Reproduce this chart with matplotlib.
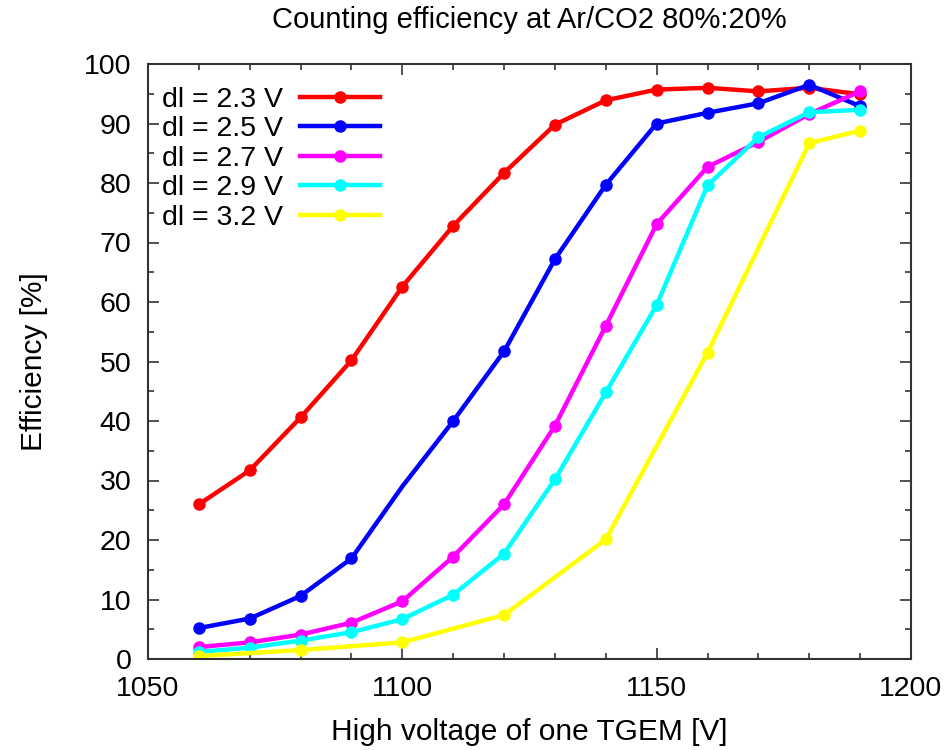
import numpy as np
import matplotlib
matplotlib.use('Agg')
import matplotlib.pyplot as plt
from matplotlib.ticker import MultipleLocator

plt.rcParams['font.family'] = ['Liberation Sans', 'DejaVu Sans']

# high voltage [V] and efficiency [%] per drift voltage
hv_full = [1060, 1070, 1080, 1090, 1100, 1110, 1120, 1130, 1140, 1150, 1160, 1170, 1180, 1190]

eff_23 = [26.0, 31.7, 40.6, 50.2, 62.6, 72.8, 81.7, 89.8, 93.9, 95.7, 96.0, 95.4, 96.0, 94.9]
eff_25 = [5.2, 6.8, 10.6, 16.9, 29.0, 40.0, 51.7, 67.2, 79.7, 90.0, 91.8, 93.4, 96.5, 92.9]
eff_27 = [2.0, 2.8, 4.1, 6.1, 9.7, 17.2, 26.0, 39.2, 56.0, 73.1, 82.7, 86.9, 91.6, 95.4]
eff_29 = [1.2, 1.9, 3.1, 4.5, 6.7, 10.8, 17.7, 30.2, 44.8, 59.5, 79.6, 87.7, 91.9, 92.3]

hv_32 = [1060, 1080, 1100, 1120, 1140, 1160, 1180, 1190]
eff_32 = [0.5, 1.5, 2.8, 7.4, 20.1, 51.5, 86.7, 88.8]

labels = ['dl = 2.3 V', 'dl = 2.5 V', 'dl = 2.7 V', 'dl = 2.9 V', 'dl = 3.2 V']
colors = ['#ff0000', '#0000ff', '#ff00ff', '#00ffff', '#ffff00']

series = [
    (hv_full, eff_23, None),
    (hv_full, eff_25, [i for i in range(len(hv_full)) if hv_full[i] != 1100]),
    (hv_full, eff_27, None),
    (hv_full, eff_29, None),
    (hv_32, eff_32, None),
]

fig = plt.figure(figsize=(9.53, 7.5), dpi=100)
ax = fig.add_axes([148 / 953, 1 - 659 / 750, (911 - 148) / 953, (659 - 64) / 750])

for (x, y, marks), lab, col in zip(series, labels, colors):
    ax.plot(x, y, color=col, lw=3.2, marker='o', ms=8, markevery=marks, label=lab)

ax.set_xlim(1050, 1200)
ax.set_ylim(0, 100)
ax.xaxis.set_major_locator(MultipleLocator(50))
ax.xaxis.set_minor_locator(MultipleLocator(10))
ax.yaxis.set_major_locator(MultipleLocator(10))
ax.yaxis.set_minor_locator(MultipleLocator(5))
ax.tick_params(which='both', direction='in', top=True, right=True, labelsize=20.5,
               color='#333333', width=1.2)
ax.tick_params(which='major', length=8, pad=12)
ax.tick_params(which='minor', length=4)
for sp in ax.spines.values():
    sp.set_color('#333333')
    sp.set_linewidth(1.5)

ax.set_xlabel('High voltage of one TGEM [V]', fontsize=21.5, labelpad=12)
ax.set_ylabel('Efficiency [%]', fontsize=21.5, labelpad=26)
ax.set_title('Counting efficiency at Ar/CO2 80%:20%', fontsize=21, pad=26)

ax.legend(loc='upper left', markerfirst=False, frameon=False, fontsize=20.5,
          handlelength=2.8, labelspacing=0.12, handletextpad=0.6,
          borderaxespad=0.3, bbox_to_anchor=(-0.008, 0.995))

fig.savefig('out.png', dpi=100)
